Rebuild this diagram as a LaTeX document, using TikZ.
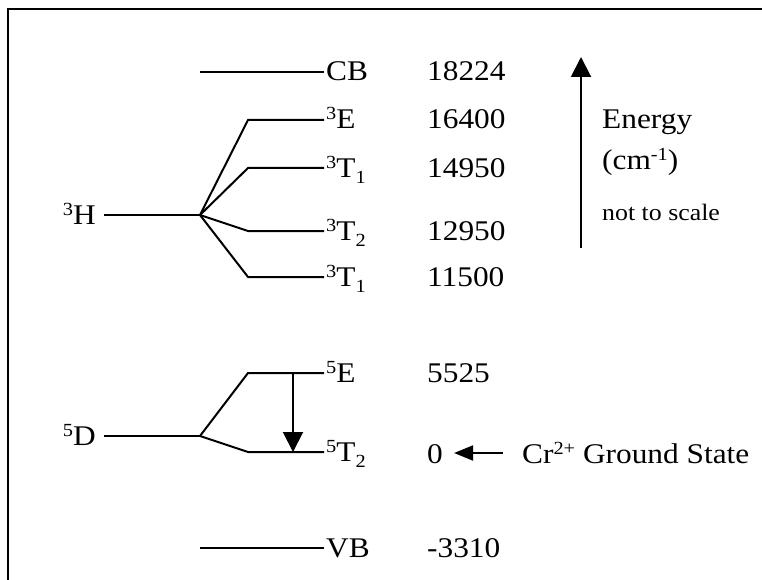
\documentclass[tikz,border=0pt]{standalone}
\usepackage{fontspec}
\setmainfont{Liberation Serif}[FakeStretch=1.1]
\usetikzlibrary{arrows.meta}
\newcommand\sups[1]{\raisebox{9pt}{\fontsize{18.5}{18}\selectfont #1}}
\newcommand\subs[1]{\raisebox{-6.5pt}{\fontsize{18.5}{18}\selectfont #1}}
\begin{document}
\begin{tikzpicture}[x=1pt,y=-1pt,
  txt/.style={font=\fontsize{28.5}{30}\selectfont, inner sep=0pt, anchor=base west},
  lft/.style={font=\fontsize{28.5}{30}\selectfont, inner sep=0pt, anchor=base east},
  lvl/.style={line width=2pt},
  frame/.style={line width=2.4pt},
  bigarrow/.style={line width=2pt, -{Triangle[length=20pt,width=20pt]}},
  smallarrow/.style={line width=2pt, -{Triangle[length=19pt,width=15pt]}}]
\useasboundingbox (0,0) rectangle (762,580);
\draw[frame] (8,580) -- (8,9) -- (762,9);

% coordinates
\coordinate (cbL) at (200,72);  \coordinate (cbR) at (324,72);
\coordinate (hA) at (104,215);  \coordinate (hB) at (200,215);
\coordinate (eA) at (248,120);  \coordinate (eB) at (324,120);
\coordinate (t1A) at (248,168); \coordinate (t1B) at (324,168);
\coordinate (t2A) at (248,231); \coordinate (t2B) at (324,231);
\coordinate (t3A) at (248,277); \coordinate (t3B) at (324,277);
\coordinate (dA) at (104,436);  \coordinate (dB) at (200,436);
\coordinate (fA) at (248,373);  \coordinate (fB) at (324,373);
\coordinate (gA) at (248,452);  \coordinate (gB) at (324,452);
\coordinate (vbL) at (200,548); \coordinate (vbR) at (324,548);
\coordinate (trTop) at (293,373); \coordinate (trBot) at (293,452);
\coordinate (enBot) at (581,248); \coordinate (enTop) at (581,57);

% labels
\node[txt] (cb) at (326,81) {CB};
\node[lft] (h3) at (96,224) {\sups{3}H};
\node[txt] (e3) at (326,129) {\sups{3}E};
\node[txt] (t1) at (326,177) {\sups{3}T\subs{1}};
\node[txt] (t2) at (326,240) {\sups{3}T\subs{2}};
\node[txt] (t3) at (326,286) {\sups{3}T\subs{1}};
\node[lft] (d5) at (96,445) {\sups{5}D};
\node[txt] (e5) at (326,382) {\sups{5}E};
\node[txt] (t5) at (326,461) {\sups{5}T\subs{2}};
\node[txt] (vb) at (326,557) {VB};

\node[txt] (n1) at (427,81) {18224};
\node[txt] (n2) at (427,129) {16400};
\node[txt] (n3) at (427,177) {14950};
\node[txt] (n4) at (427,240) {12950};
\node[txt] (n5) at (427,286) {11500};
\node[txt] (n6) at (427,382) {5525};
\node[txt] (zero) at (427,463) {0};
\node[txt] (n8) at (427,557) {-3310};

\node[txt] (en) at (602,129) {Energy};
\node[txt] (unit) at (602,169) {(cm\sups{-1})};
\node[txt, font=\fontsize{23.5}{26}\selectfont] (nts) at (602,220) {not to scale};
\node[txt] (cr) at (522,463) {Cr\sups{2+} Ground State};

% levels
\draw[lvl] (cbL) -- (cbR);
\draw[lvl] (hA) -- (hB);
\draw[lvl] (hB) -- (eA) -- (eB);
\draw[lvl] (hB) -- (t1A) -- (t1B);
\draw[lvl] (hB) -- (t2A) -- (t2B);
\draw[lvl] (hB) -- (t3A) -- (t3B);
\draw[lvl] (dA) -- (dB);
\draw[lvl] (dB) -- (fA) -- (fB);
\draw[lvl] (dB) -- (gA) -- (gB);
\draw[lvl] (vbL) -- (vbR);

% arrows
\draw[bigarrow] (trTop) -- (trBot);
\draw[bigarrow] (enBot) -- (enTop);
\draw[smallarrow, shorten <=19pt, shorten >=11pt] (cr.west |- 0,453) -- (zero.east |- 0,453);
\end{tikzpicture}
\end{document}
